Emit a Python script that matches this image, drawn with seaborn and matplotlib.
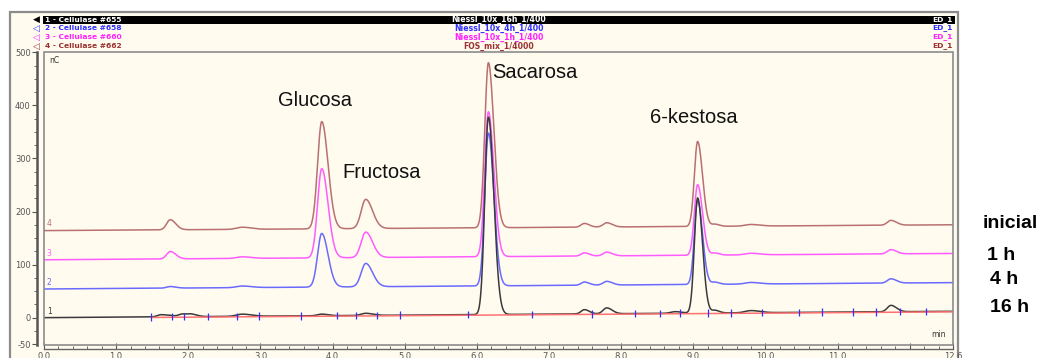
import numpy as np
import pandas as pd
import matplotlib
matplotlib.use("Agg")
import matplotlib.pyplot as plt
from matplotlib.patches import Rectangle
from matplotlib.ticker import MultipleLocator, FixedLocator
import seaborn as sns

# ---------------- data ----------------
trace_ids = ["1", "2", "3", "4"]
trace_samples = ["1 - Cellulase #655", "2 - Cellulase #658", "3 - Cellulase #660", "4 - Cellulase #662"]
trace_names = ["Niessl_10x_16h_1/400", "Niessl_10x_4h_1/400", "Niessl_10x_1h_1/400", "FOS_mix_1/4000"]
trace_detector = ["ED_1", "ED_1", "ED_1", "ED_1"]
trace_conditions = ["16 h", "4 h", "1 h", "inicial"]

# baseline (nC) at start and end of run, per trace 1..4
baseline_start = [0, 54, 109, 164]
baseline_end = [12, 66, 121, 175]

# peak table: retention time (min), width (min) and height above baseline (nC) per trace
peak_times = [1.62, 1.75, 1.92, 2.05, 2.75, 3.85, 4.46, 6.16, 7.49, 7.80, 8.75, 9.06, 9.30, 9.80, 11.74]
peak_widths = [0.05, 0.05, 0.05, 0.05, 0.08, 0.058, 0.063, 0.05, 0.045, 0.05, 0.06, 0.045, 0.04, 0.08, 0.05]
heights_t1 = [4, 2, 5, 4, 4, 3, 4, 372, 8, 11, 3, 217, 5, 4, 12]
heights_t2 = [0, 3, 0, 0, 3, 101, 44, 288, 6, 7, 0, 158, 4, 3, 8]
heights_t3 = [0, 14, 0, 0, 3, 168, 48, 273, 6, 7, 0, 133, 4, 3, 8]
heights_t4 = [0, 19, 0, 0, 4, 202, 55, 311, 7, 8, 0, 160, 4, 3, 9]

# named compounds
compound_names = ["Glucosa", "Fructosa", "Sacarosa", "6-kestosa"]

# integration delimiters on trace 1 (min)
delim_times = [1.48, 1.78, 1.94, 2.28, 2.67, 2.98, 3.56, 4.06, 4.32, 4.61, 4.93, 5.88,
               6.76, 7.60, 8.19, 8.54, 8.82, 9.21, 9.52, 9.95, 10.47, 10.79, 11.22,
               11.53, 11.86, 12.22]
integration_start = 1.48

x_ticks = [0, 1, 2, 3, 4, 5, 6, 7, 8, 9, 10, 11, 12, 12.6]
x_tick_labels = ["0.0", "1.0", "2.0", "3.0", "4.0", "5.0", "6.0", "7.0", "8.0", "9.0",
                 "10.0", "11.0", "", "12.6"]
y_ticks = [-50, 0, 100, 200, 300, 400, 500]
y_tick_labels = ["-50", "0", "100", "200", "300", "400", "500"]
run_end = 12.6

# ---------------- styles ----------------
trace_colors = ["#3a3a3a", "#6a6aff", "#ff5cff", "#b87070"]
header_colors = ["#ffffff", "#3030ff", "#ff20ff", "#9a3030"]
cream = "#fffbef"
frame_grey = "#8c8c8c"

W, H = 1042, 358
def fx(px):
    return px / W
def fy(py):
    return 1 - py / H

# ---------------- build signals ----------------
t = np.linspace(0, run_end, 3000)
all_heights = [heights_t1, heights_t2, heights_t3, heights_t4]
rows = []
baselines = []
for i, tid in enumerate(trace_ids):
    base = baseline_start[i] + (baseline_end[i] - baseline_start[i]) * t / run_end
    baselines.append(base)
    sig = base.copy()
    for rt, w, h in zip(peak_times, peak_widths, all_heights[i]):
        s = np.where(t < rt, w, w * 1.5)
        sig = sig + h * np.exp(-0.5 * ((t - rt) / s) ** 2)
    rows.append(pd.DataFrame({"time": t, "signal": sig, "trace": tid}))
df = pd.concat(rows, ignore_index=True)

# ---------------- figure ----------------
sns.set_theme(style="white")
plt.rcParams["font.family"] = ["DejaVu Sans"]
fig = plt.figure(figsize=(W / 100, H / 100), dpi=100, facecolor="white")

# outer frame
fig.patches.append(Rectangle((fx(10), fy(362)), fx(958) - fx(10), fy(12) - fy(362),
                             transform=fig.transFigure, facecolor=cream,
                             edgecolor=frame_grey, linewidth=1.6, zorder=-10))
# header black bar for trace 1
fig.patches.append(Rectangle((fx(43), fy(24)), fx(955) - fx(43), fy(15.5) - fy(24),
                             transform=fig.transFigure, facecolor="black",
                             edgecolor="none", zorder=-5))
header_rows = [19.7, 28.0, 37.0, 46.0]
for i in range(4):
    cy = fy(header_rows[i])
    col = header_colors[i]
    tri_col = "black" if i == 0 else header_colors[i]
    fig.text(fx(33), cy, "◀" if i == 0 else "◁", color=tri_col, fontsize=6.5,
             ha="left", va="center", zorder=3)
    fig.text(fx(45), cy, trace_samples[i], color=col, fontsize=5.4, fontweight="bold",
             ha="left", va="center", zorder=3)
    fig.text(fx(499), cy, trace_names[i], color=col, fontsize=5.6, fontweight="bold",
             ha="center", va="center", zorder=3)
    fig.text(fx(953), cy, trace_detector[i], color=col, fontsize=5.4, fontweight="bold",
             ha="right", va="center", zorder=3)

# main axes
ax = fig.add_axes([fx(44), fy(345), fx(953) - fx(44), fy(52) - fy(345)])
ax.set_facecolor(cream)
palette = dict(zip(trace_ids, trace_colors))
sns.lineplot(data=df, x="time", y="signal", hue="trace", hue_order=["4", "3", "2", "1"],
             palette=palette, linewidth=1.1, legend=False, estimator=None, sort=False,
             ax=ax)

# integration baseline and delimiters on trace 1
mask = t >= integration_start
ax.plot(t[mask], baselines[0][mask] - 1, color="#ff7070", linewidth=1.1, zorder=5)
d_base = np.interp(delim_times, t, baselines[0])
ax.vlines(delim_times, d_base - 7, d_base + 7, color="#3030ff", linewidth=0.9, zorder=6)

ax.set_xlim(0, run_end)
ax.set_ylim(-51.5, 500.5)
ax.set_xlabel("")
ax.set_ylabel("")

for s in ["top", "right"]:
    ax.spines[s].set_visible(False)
ax.spines["left"].set_position(("outward", 5))
ax.spines["left"].set_color("#555555")
ax.spines["left"].set_linewidth(1.8)
ax.spines["bottom"].set_position(("outward", 3))
ax.spines["bottom"].set_color("#666666")
ax.spines["bottom"].set_linewidth(1.0)
ax.add_patch(Rectangle((0, 0), 1, 1, transform=ax.transAxes, fill=False,
                       edgecolor=frame_grey, linewidth=1.2, clip_on=False, zorder=7))

ax.yaxis.set_major_locator(FixedLocator(y_ticks))
ax.set_yticklabels(y_tick_labels)
ax.yaxis.set_minor_locator(MultipleLocator(25))
ax.xaxis.set_major_locator(FixedLocator(x_ticks))
ax.set_xticklabels(x_tick_labels)
ax.xaxis.set_minor_locator(MultipleLocator(0.2))
ax.tick_params(axis="y", which="major", direction="out", length=3.5, width=0.8,
               colors="#555555", labelsize=6, pad=1, left=True)
ax.tick_params(axis="y", which="minor", direction="out", length=2, width=0.6,
               colors="#555555", left=True)
ax.tick_params(axis="x", which="major", direction="in", length=4, width=0.8,
               colors="#555555", labelsize=6, pad=2, bottom=True)
ax.tick_params(axis="x", which="minor", direction="in", length=2, width=0.6,
               colors="#555555", bottom=True)

ax.text(0.006, 0.985, "nC", transform=ax.transAxes, fontsize=5.5, color="#333333",
        ha="left", va="top")
ax.text(0.992, 0.02, "min", transform=ax.transAxes, fontsize=5.5, color="#333333",
        ha="right", va="bottom")

# trace numbers
for i, tid in enumerate(trace_ids):
    ax.text(0.04, baseline_start[i] + 4, tid, color=trace_colors[i], fontsize=5.5,
            ha="left", va="bottom")

# compound labels (left x in min, centre y in nC)
label_pos = [(3.24, 410), (4.14, 274), (6.21, 461), (8.40, 378)]
for name, (lx, ly) in zip(compound_names, label_pos):
    ax.text(lx, ly, name, fontsize=14.5, family="Liberation Sans", color="#111111",
            ha="left", va="center", zorder=8)

# condition labels on the right
cond_pos = [(990, 308), (990, 280), (987, 255), (983, 223)]
for cond, (px, py) in zip(trace_conditions, cond_pos):
    fig.text(fx(px), fy(py), cond, fontsize=14, fontweight="bold",
             family="Liberation Sans", color="black", ha="left", va="center")

fig.savefig("out.png", dpi=100, facecolor="white")
